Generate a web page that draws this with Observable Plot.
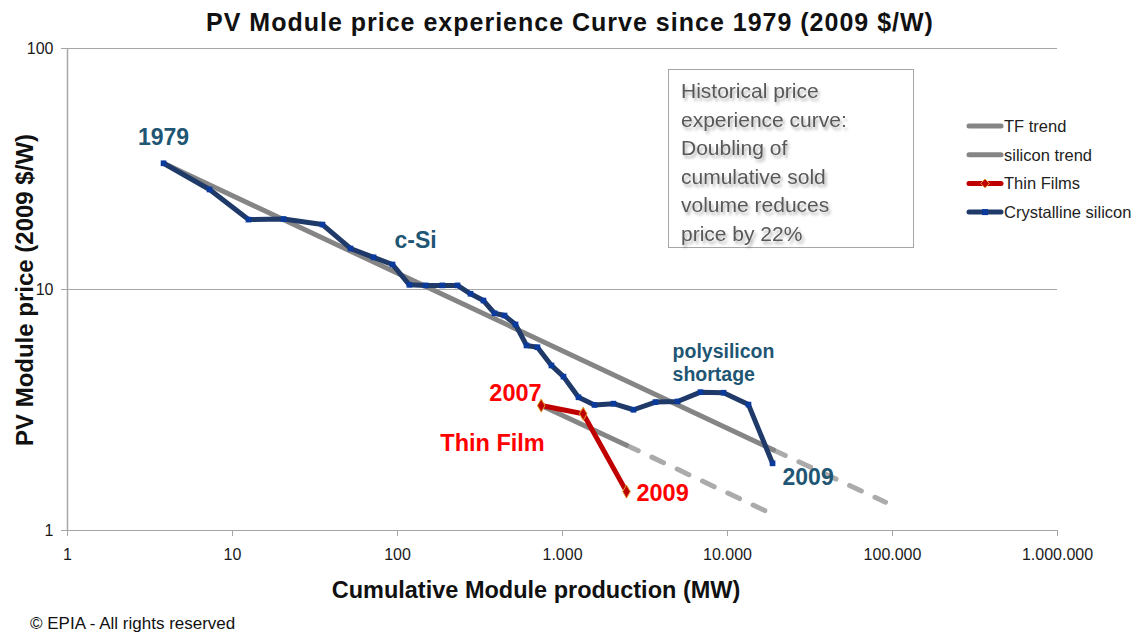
<!DOCTYPE html>
<html>
<head>
<meta charset="utf-8">
<script src="https://cdn.jsdelivr.net/npm/d3@7"></script>
<script src="https://cdn.jsdelivr.net/npm/@observablehq/plot@0.6"></script>
<style>
  html, body { margin: 0; padding: 0; background: #fff; }
  svg { font-family: "Liberation Sans", Arial, sans-serif; }
</style>
</head>
<body>
<div id="chart"></div>
<script>
// ---- Data ----
const siliconMW = [3.82, 7.26, 12.5, 20.4, 35.1, 51.9, 71.6, 93.3, 118, 148, 187, 231, 277, 332, 387, 445, 519, 605, 705, 857, 1014, 1250, 1563, 2037, 2694, 3660, 4977, 6859, 9460, 13400, 18750];
const siliconPrice = [33.4, 26.0, 19.5, 19.6, 18.6, 14.8, 13.6, 12.7, 10.46, 10.4, 10.4, 10.4, 9.6, 9.0, 7.97, 7.80, 7.16, 5.86, 5.76, 4.84, 4.35, 3.57, 3.32, 3.36, 3.17, 3.41, 3.43, 3.75, 3.73, 3.33, 1.90];

const thinFilmMW = [743, 1335, 2443];
const thinFilmPrice = [3.30, 3.05, 1.45];

// trend lines: start, end of historical (solid) part, end of projection (dashed)
const siliconTrendMW = [3.82, 19000, 90700];
const siliconTrendPrice = [33.4, 2.16, 1.31];
const tfTrendMW = [743, 2443, 17700];
const tfTrendPrice = [3.30, 2.26, 1.19];

const xTickValues = [1, 10, 100, 1000, 10000, 100000, 1000000];
const xTickLabels = ["1", "10", "100", "1.000", "10.000", "100.000", "1.000.000"];
const yTickValues = [1, 10, 100];
const yTickLabels = ["1", "10", "100"];

const legendLabels = ["TF trend", "silicon trend", "Thin Films", "Crystalline silicon"];
const boxLines = ["Historical price", "experience curve:", "Doubling of", "cumulative sold", "volume reduces", "price by 22%"];

// ---- Build tables ----
const silicon = siliconMW.map((x, i) => ({x, y: siliconPrice[i]}));
const thin = thinFilmMW.map((x, i) => ({x, y: thinFilmPrice[i]}));
const sTrend = siliconTrendMW.map((x, i) => ({x, y: siliconTrendPrice[i]}));
const tTrend = tfTrendMW.map((x, i) => ({x, y: tfTrendPrice[i]}));

const navy = "#1F3A68";
const teal = "#1F5673";
const red = "#C00000";
const grid = "#A6A6A6";

const svg = Plot.plot({
  width: 1144,
  height: 634,
  marginLeft: 67,
  marginRight: 87,
  marginTop: 48,
  marginBottom: 104,
  style: {fontFamily: '"Liberation Sans", Arial, sans-serif', background: "#fff"},
  x: {type: "log", domain: [1, 1e6]},
  y: {type: "log", domain: [1, 100]},
  marks: [
    Plot.ruleY(yTickValues, {stroke: grid, strokeWidth: 1}),
    Plot.ruleX([1], {stroke: grid, strokeWidth: 1.5}),
    Plot.axisX({
      ticks: xTickValues,
      tickFormat: d => xTickLabels[xTickValues.indexOf(d)],
      tickSize: 6, tickPadding: 12,
      stroke: grid, fill: "#1a1a1a", fontSize: 16, label: null
    }),
    Plot.axisY({
      ticks: yTickValues,
      tickFormat: d => yTickLabels[yTickValues.indexOf(d)],
      tickSize: 6, tickPadding: 8,
      stroke: grid, fill: "#1a1a1a", fontSize: 16, label: null
    }),
    // trends
    Plot.line(sTrend.slice(1), {x: "x", y: "y", stroke: "#ABABAB", strokeWidth: 5, strokeDasharray: "13,15", strokeLinecap: "round"}),
    Plot.line(tTrend.slice(1), {x: "x", y: "y", stroke: "#ABABAB", strokeWidth: 5, strokeDasharray: "13,15", strokeLinecap: "round"}),
    Plot.line(sTrend.slice(0, 2), {x: "x", y: "y", stroke: "#858585", strokeWidth: 5}),
    Plot.line(tTrend.slice(0, 2), {x: "x", y: "y", stroke: "#858585", strokeWidth: 5}),
    // data series
    Plot.line(silicon, {x: "x", y: "y", stroke: navy, strokeWidth: 5, strokeLinejoin: "round"}),
    Plot.dot(silicon, {x: "x", y: "y", symbol: "square", r: 3.2, fill: "#0A3A9C", stroke: "none"}),
    Plot.line(thin, {x: "x", y: "y", stroke: red, strokeWidth: 5, strokeLinejoin: "round"}),
    Plot.dot(thin, {x: "x", y: "y", symbol: "diamond", r: 4, fill: red, stroke: "#E0A030", strokeWidth: 1}),
    // annotations
    Plot.text(["1979"], {x: 3.82, y: 42.7, text: d => d, fill: teal, fontSize: 23, fontWeight: "bold"}),
    Plot.text(["c-Si"], {x: 128.6, y: 16.0, text: d => d, fill: teal, fontSize: 23, fontWeight: "bold"}),
    Plot.text(["polysilicon"], {x: 4645, y: 5.53, text: d => d, fill: teal, fontSize: 19.5, fontWeight: "bold", textAnchor: "start"}),
    Plot.text(["shortage"], {x: 4645, y: 4.44, text: d => d, fill: teal, fontSize: 19.5, fontWeight: "bold", textAnchor: "start"}),
    Plot.text(["2009"], {x: 21550, y: 1.66, text: d => d, fill: teal, fontSize: 23, fontWeight: "bold", textAnchor: "start"}),
    Plot.text(["2007"], {x: 519, y: 3.70, text: d => d, fill: "#FF0000", fontSize: 23.5, fontWeight: "bold"}),
    Plot.text(["Thin Film"], {x: 376.6, y: 2.30, text: d => d, fill: "#FF0000", fontSize: 23.5, fontWeight: "bold"}),
    Plot.text(["2009"], {x: 2808, y: 1.42, text: d => d, fill: "#FF0000", fontSize: 23.5, fontWeight: "bold", textAnchor: "start"})
  ]
});

const s = d3.select(svg);

// Title
s.append("text").attr("x", 570).attr("y", 31).attr("text-anchor", "middle")
  .attr("font-size", 25).attr("letter-spacing", 1).attr("font-weight", "bold").attr("fill", "#111")
  .text("PV Module price experience Curve since 1979 (2009 $/W)");

// Y title
s.append("text").attr("transform", "translate(24,290) rotate(-90)")
  .attr("text-anchor", "middle").attr("dominant-baseline", "central")
  .attr("font-size", 24).attr("font-weight", "bold").attr("fill", "#111")
  .text("PV Module price (2009 $/W)");

// X title
s.append("text").attr("x", 536).attr("y", 598).attr("text-anchor", "middle")
  .attr("font-size", 23.5).attr("font-weight", "bold").attr("fill", "#111")
  .text("Cumulative Module production (MW)");

// Footer
s.append("text").attr("x", 30).attr("y", 629).attr("text-anchor", "start")
  .attr("font-size", 17).attr("fill", "#111")
  .text("© EPIA - All rights reserved");

// Text box
const defs = s.append("defs");
const f = defs.append("filter").attr("id", "tshadow").attr("x", "-10%").attr("y", "-10%").attr("width", "130%").attr("height", "150%");
f.append("feDropShadow").attr("dx", 2).attr("dy", 3).attr("stdDeviation", 1.6).attr("flood-color", "#000").attr("flood-opacity", 0.3);
s.append("rect").attr("x", 668.5).attr("y", 69.5).attr("width", 245).attr("height", 178)
  .attr("fill", "#fff").attr("stroke", "#A6A6A6");
const tb = s.append("g").attr("filter", "url(#tshadow)").attr("text-anchor", "start");
boxLines.forEach((t, i) => {
  tb.append("text").attr("x", 681).attr("y", 98 + i * 28.5).attr("text-anchor", "start")
    .attr("font-size", 21).attr("fill", "#595959").text(t);
});

// Legend
const legColors = ["#858585", "#858585", red, navy];
legendLabels.forEach((t, i) => {
  const cy = 126 + i * 28.7;
  s.append("line").attr("x1", 969).attr("x2", 1001).attr("y1", cy).attr("y2", cy)
    .attr("stroke", legColors[i]).attr("stroke-width", 5).attr("stroke-linecap", "round");
  if (i === 2) {
    s.append("path").attr("d", d3.symbol(d3.symbolDiamond2, 50)()).attr("transform", `translate(985,${cy})`)
      .attr("fill", red).attr("stroke", "#E0A030").attr("stroke-width", 1);
  }
  if (i === 3) {
    s.append("rect").attr("x", 982).attr("y", cy - 3).attr("width", 6).attr("height", 6).attr("fill", "#0A3A9C");
  }
  s.append("text").attr("x", 1004).attr("y", cy).attr("dominant-baseline", "central").attr("text-anchor", "start")
    .attr("font-size", 16.5).attr("fill", "#222").text(t);
});

document.getElementById("chart").append(svg);
</script>
</body>
</html>
